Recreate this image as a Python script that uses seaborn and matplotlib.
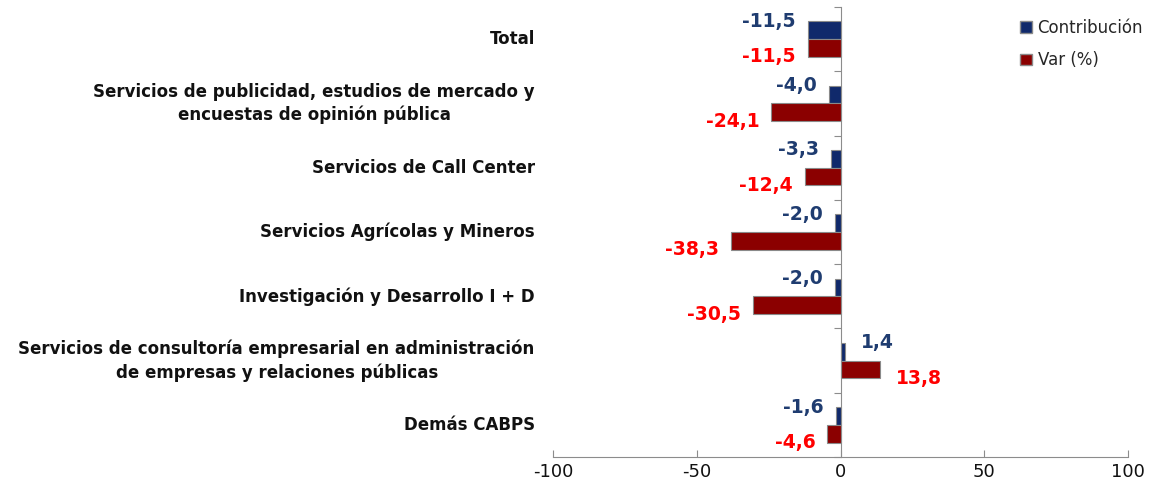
import pandas as pd
import matplotlib.pyplot as plt
import seaborn as sns
from matplotlib.transforms import blended_transform_factory
from matplotlib.ticker import FixedLocator
from matplotlib.patches import Patch

categories = [
    'Total',
    'Servicios de publicidad, estudios de mercado y\nencuestas de opinión pública',
    'Servicios de Call Center',
    'Servicios Agrícolas y Mineros',
    'Investigación y Desarrollo I + D',
    'Servicios de consultoría empresarial en administración\nde empresas y relaciones públicas',
    'Demás CABPS',
]
contribucion = [-11.5, -4.0, -3.3, -2.0, -2.0, 1.4, -1.6]
var_pct = [-11.5, -24.1, -12.4, -38.3, -30.5, 13.8, -4.6]
series = ['Contribución', 'Var (%)']

navy = '#10296B'
red = '#8B0000'
label_colors = {'Contribución': '#1F3C70', 'Var (%)': '#FF0000'}

df = pd.DataFrame({
    'cat': categories * 2,
    'serie': [series[0]] * len(categories) + [series[1]] * len(categories),
    'valor': contribucion + var_pct,
})

sns.set_style('white')
plt.rcParams['font.family'] = ['DejaVu Sans']

fig = plt.figure(figsize=(11.5, 4.93), dpi=100)
ax = fig.add_axes([0.481, 0.073, 0.5, 0.913])

sns.barplot(data=df, y='cat', x='valor', hue='serie', hue_order=series,
            order=categories, orient='h', palette=[navy, red], saturation=1,
            width=0.55, edgecolor='#8a8a8a', linewidth=0.8, legend=False, ax=ax)

ax.set_xlim(-100, 100)
ax.set_xticks([-100, -50, 0, 50, 100])
ax.set_xticklabels(['-100', '-50', '0', '50', '100'], fontsize=13)
ax.set_xlabel('')
ax.set_ylabel('')

# vertical axis at zero, with category boundary ticks
for s in ['top', 'right']:
    ax.spines[s].set_visible(False)
ax.spines['left'].set_position(('data', 0))
ax.spines['left'].set_color('#8c8c8c')
ax.spines['bottom'].set_color('#8c8c8c')
n = len(categories)
ax.set_ylim(n - 0.5, -0.5)
ax.yaxis.set_major_locator(FixedLocator([i - 0.5 for i in range(n + 1)]))
ax.set_yticklabels([])
ax.tick_params(axis='y', length=5, color='#8c8c8c', direction='out', left=True)
ax.tick_params(axis='x', length=5, color='#8c8c8c', direction='in', bottom=True,
               labelcolor='#111111', pad=4)

# category labels on the left
trans = blended_transform_factory(ax.transAxes, ax.transData)
for i, c in enumerate(categories):
    ax.text(-0.032, i, c, transform=trans, ha='right', va='center',
            multialignment='center', linespacing=1.35, fontsize=12,
            fontweight='bold', color='#111111')

# data labels
for k, s in enumerate(series):
    vals = contribucion if k == 0 else var_pct
    dy = -9 if k == 0 else 9
    off = -0.1375 if k == 0 else 0.1375
    for i, v in enumerate(vals):
        txt = f'{v:.1f}'.replace('.', ',')
        dx = -12 if v < 0 else 16
        ax.annotate(txt, (v, i + off), xytext=(dx, -dy), textcoords='offset pixels',
                    ha='right' if v < 0 else 'left', va='center', fontsize=13.5,
                    fontweight='bold', color=label_colors[s])

# legend
handles = [Patch(facecolor=navy, edgecolor='#8a8a8a'), Patch(facecolor=red, edgecolor='#8a8a8a')]
fig.legend(handles, series, loc='upper left', bbox_to_anchor=(1020 / 1150, 1 - 19 / 493),
           frameon=False, fontsize=12, handlelength=0.7, handleheight=0.7,
           handletextpad=0.35, labelspacing=0.85, borderpad=0, borderaxespad=0)

fig.savefig('out.png', dpi=100)
